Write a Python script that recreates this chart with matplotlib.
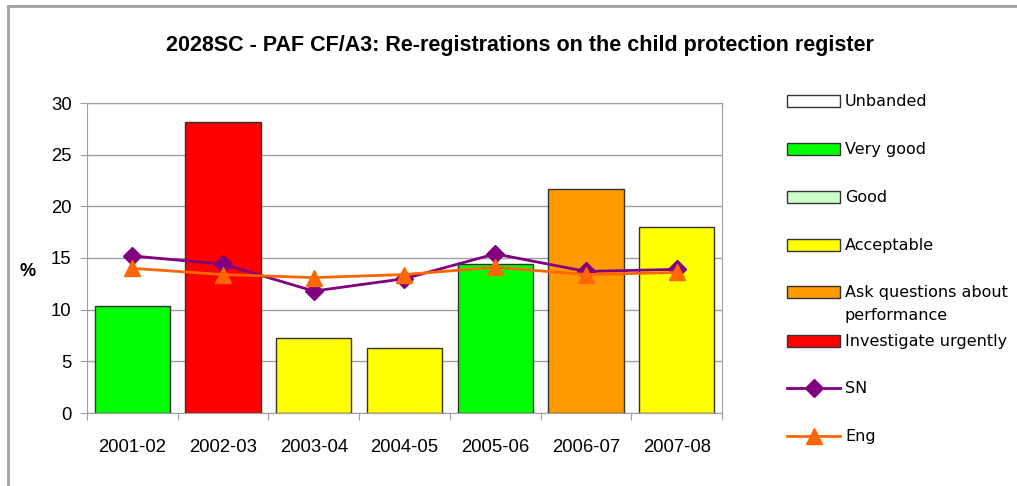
import matplotlib.pyplot as plt
from matplotlib.patches import Rectangle
from matplotlib.lines import Line2D

years = ["2001-02", "2002-03", "2003-04", "2004-05", "2005-06", "2006-07", "2007-08"]
values = [10.4, 28.2, 7.3, 6.25, 14.4, 21.7, 18.0]
bands = ["Very good", "Investigate urgently", "Acceptable", "Acceptable",
         "Very good", "Ask questions about performance", "Acceptable"]
sn = [15.2, 14.4, 11.8, 13.0, 15.4, 13.7, 13.9]
eng = [14.0, 13.4, 13.1, 13.4, 14.1, 13.4, 13.6]

band_names = ["Unbanded", "Very good", "Good", "Acceptable",
              "Ask questions about performance", "Investigate urgently"]
band_colors = {"Unbanded": "#FFFFFF", "Very good": "#00FF00", "Good": "#CCFFCC",
               "Acceptable": "#FFFF00", "Ask questions about performance": "#FF9900",
               "Investigate urgently": "#FF0000"}
legend_labels = ["Unbanded", "Very good", "Good", "Acceptable",
                 "Ask questions about\nperformance", "Investigate urgently"]

W, H = 1017, 486
fig = plt.figure(figsize=(W / 100, H / 100), dpi=100)
plt.rcParams['font.family'] = ['Liberation Sans', 'DejaVu Sans']

# outer chart border (top and left only visible)
fig.add_artist(Line2D([8 / W, 8 / W], [0, 1 - 6 / H], transform=fig.transFigure,
                      color="#A0A0A0", lw=2))
fig.add_artist(Line2D([8 / W, 1], [1 - 6 / H, 1 - 6 / H], transform=fig.transFigure,
                      color="#A0A0A0", lw=2))

ax = fig.add_axes([87 / W, 1 - 413 / H, (722 - 87) / W, (413 - 103) / H])
x = list(range(len(years)))
ax.bar(x, values, width=0.83, color=[band_colors[b] for b in bands],
       edgecolor="#333333", linewidth=1, zorder=2)
ax.plot(x, sn, color="#800080", lw=2, marker="D", markersize=9, zorder=3)
ax.plot(x, eng, color="#FF6600", lw=2, marker="^", markersize=11, zorder=4)

ax.set_xlim(-0.5, len(years) - 0.5)
ax.set_ylim(0, 30)
ax.set_yticks(range(0, 31, 5))
ax.yaxis.grid(True, color="#A0A0A0", lw=1)
ax.set_axisbelow(True)
for s in ax.spines.values():
    s.set_color("#A0A0A0")
ax.set_xticks([i - 0.5 for i in range(len(years) + 1)], minor=False)
ax.set_xticklabels([])
ax.set_xticks(x, minor=True)
ax.set_xticklabels(years, minor=True, fontsize=13.3)
ax.tick_params(axis="x", which="major", length=5, color="#A0A0A0", direction="out")
ax.tick_params(axis="x", which="minor", length=0, pad=19)
ax.tick_params(axis="y", length=5, color="#A0A0A0", labelsize=13.3, pad=6)

fig.text(28 / W, 1 - 271 / H, "%", fontsize=13, fontweight="bold", ha="center", va="center")
fig.text(520 / W, 1 - 46 / H, "2028SC - PAF CF/A3: Re-registrations on the child protection register",
         fontsize=15.5, fontweight="bold", ha="center", va="center")

# legend drawn by hand to keep the spacing of the original
ys = [101, 149, 197, 245, 292, 341]
for name, lab, yy in zip(band_names, legend_labels, ys):
    fig.add_artist(Rectangle((787 / W, 1 - (yy + 6) / H), 53 / W, 12 / H,
                             transform=fig.transFigure, facecolor=band_colors[name],
                             edgecolor="#333333", lw=1))
    fig.text(845 / W, 1 - (yy - 7) / H, lab, fontsize=11.5, family="DejaVu Sans",
             ha="left", va="top", linespacing=1.65)
for lab, col, mk, ms, yy in [("SN", "#800080", "D", 9, 388), ("Eng", "#FF6600", "^", 11, 436)]:
    fig.add_artist(Line2D([787 / W, 840 / W], [1 - yy / H, 1 - yy / H], transform=fig.transFigure,
                          color=col, lw=2))
    fig.add_artist(Line2D([813.5 / W], [1 - yy / H], transform=fig.transFigure,
                          color=col, marker=mk, markersize=ms, lw=0))
    fig.text(845 / W, 1 - yy / H, lab, fontsize=11.5, family="DejaVu Sans",
             ha="left", va="center")

fig.savefig("out.png", dpi=100)
